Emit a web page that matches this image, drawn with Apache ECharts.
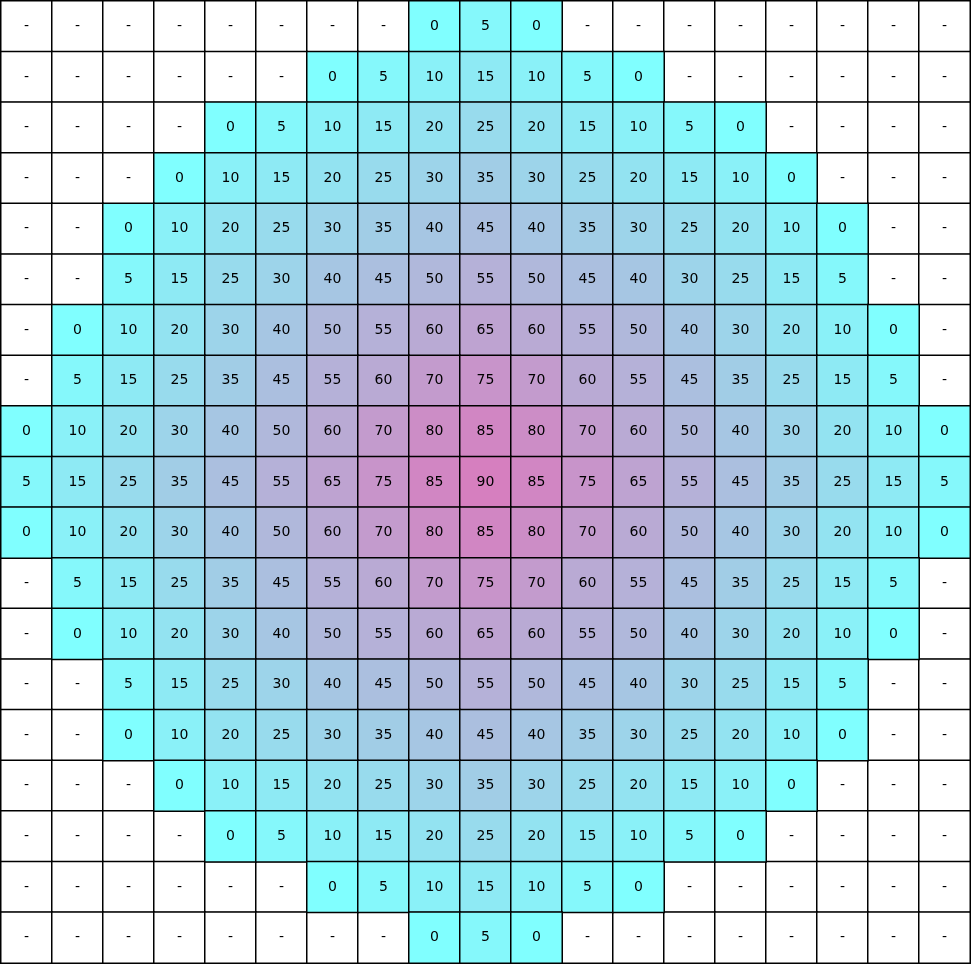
<!DOCTYPE html>
<html>
<head>
<meta charset="utf-8">
<script src="https://cdn.jsdelivr.net/npm/echarts@6/dist/echarts.min.js"></script>
<style>html,body{margin:0;padding:0;background:#fff}#c{width:972px;height:965px}</style>
</head>
<body>
<div id="c"></div>
<script>
// '-' cells are null
const columns = ['0','1','2','3','4','5','6','7','8','9','10','11','12','13','14','15','16','17','18'];
const rows = ['0','1','2','3','4','5','6','7','8','9','10','11','12','13','14','15','16','17','18'];
const _ = null;
const row0  = [_,_,_,_,_,_,_,_,0,5,0,_,_,_,_,_,_,_,_];
const row1  = [_,_,_,_,_,_,0,5,10,15,10,5,0,_,_,_,_,_,_];
const row2  = [_,_,_,_,0,5,10,15,20,25,20,15,10,5,0,_,_,_,_];
const row3  = [_,_,_,0,10,15,20,25,30,35,30,25,20,15,10,0,_,_,_];
const row4  = [_,_,0,10,20,25,30,35,40,45,40,35,30,25,20,10,0,_,_];
const row5  = [_,_,5,15,25,30,40,45,50,55,50,45,40,30,25,15,5,_,_];
const row6  = [_,0,10,20,30,40,50,55,60,65,60,55,50,40,30,20,10,0,_];
const row7  = [_,5,15,25,35,45,55,60,70,75,70,60,55,45,35,25,15,5,_];
const row8  = [0,10,20,30,40,50,60,70,80,85,80,70,60,50,40,30,20,10,0];
const row9  = [5,15,25,35,45,55,65,75,85,90,85,75,65,55,45,35,25,15,5];
const row10 = [0,10,20,30,40,50,60,70,80,85,80,70,60,50,40,30,20,10,0];
const row11 = [_,5,15,25,35,45,55,60,70,75,70,60,55,45,35,25,15,5,_];
const row12 = [_,0,10,20,30,40,50,55,60,65,60,55,50,40,30,20,10,0,_];
const row13 = [_,_,5,15,25,30,40,45,50,55,50,45,40,30,25,15,5,_,_];
const row14 = [_,_,0,10,20,25,30,35,40,45,40,35,30,25,20,10,0,_,_];
const row15 = [_,_,_,0,10,15,20,25,30,35,30,25,20,15,10,0,_,_,_];
const row16 = [_,_,_,_,0,5,10,15,20,25,20,15,10,5,0,_,_,_,_];
const row17 = [_,_,_,_,_,_,0,5,10,15,10,5,0,_,_,_,_,_,_];
const row18 = [_,_,_,_,_,_,_,_,0,5,0,_,_,_,_,_,_,_,_];
const grid = [row0,row1,row2,row3,row4,row5,row6,row7,row8,row9,row10,row11,row12,row13,row14,row15,row16,row17,row18];

const valued = [];
const empty = [];
grid.forEach((r, ri) => r.forEach((v, ci) => {
  if (v === null) empty.push([ci, ri, 0]);
  else valued.push([ci, ri, v]);
}));

const labelBase = {show: true, color: '#000', fontFamily: 'DejaVu Sans', fontSize: 14};
const chart = echarts.init(document.getElementById('c'), null, {renderer: 'canvas'});
chart.setOption({
  animation: false,
  grid: {left: 1, top: 1, width: 969, height: 962},
  xAxis: {type: 'category', data: columns, show: false},
  yAxis: {type: 'category', data: rows, inverse: true, show: false},
  visualMap: {
    show: false, min: 0, max: 90, dimension: 2, seriesIndex: 1,
    inRange: {color: ['#80FFFF', '#D67FBF']}
  },
  series: [{
    type: 'heatmap',
    data: empty,
    itemStyle: {color: '#FFFFFF', borderColor: '#000', borderWidth: 1.5},
    label: Object.assign({}, labelBase, {formatter: () => '-'}),
    emphasis: {disabled: true}
  }, {
    type: 'heatmap',
    data: valued,
    itemStyle: {borderColor: '#000', borderWidth: 1.5},
    label: Object.assign({}, labelBase, {formatter: p => String(p.value[2])}),
    emphasis: {disabled: true}
  }]
});
</script>
</body>
</html>
